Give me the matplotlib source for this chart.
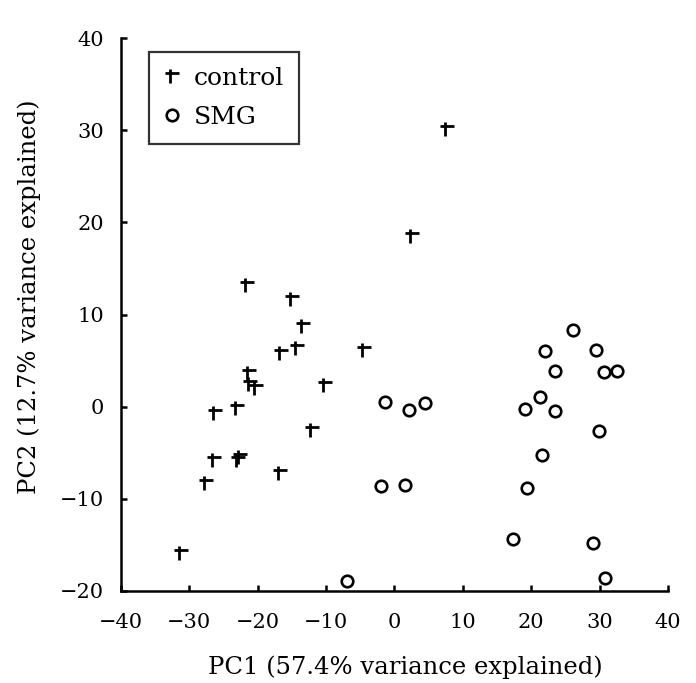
import matplotlib
matplotlib.use("Agg")
import matplotlib.pyplot as plt
from matplotlib.path import Path
import numpy as np

plt.rcParams['font.family'] = ['DejaVu Serif']
plt.rcParams['axes.unicode_minus'] = True

# PCA scores
control_pc1 = [7.7, 2.5, -21.5, -15.0, -13.4, -14.2, -16.6, -4.4, -21.3, -21.1,
               -20.3, -10.2, -23.0, -26.2, -12.1, -26.3, -22.6, -22.9, -16.7, -27.5, -31.2]
control_pc2 = [30.1, 18.5, 13.2, 11.65, 8.8, 6.4, 5.8, 6.15, 3.6, 2.45,
               2.05, 2.3, -0.1, -0.65, -2.5, -5.8, -5.5, -5.8, -7.2, -8.3, -15.9]

smg_pc1 = [26.1, 22.0, 29.5, 23.4, 30.6, 32.5, 21.2, 19.1, 23.4, 29.9, 21.6,
           19.3, 17.3, 29.0, 30.7, -1.4, 2.2, 4.4, -1.9, 1.5, -6.9]
smg_pc2 = [8.3, 6.07, 6.15, 3.87, 3.76, 3.87, 1.0, -0.3, -0.5, -2.7, -5.3,
           -8.8, -14.4, -14.8, -18.65, 0.55, -0.4, 0.35, -8.6, -8.5, -18.95]

x_ticks = [-40, -30, -20, -10, 0, 10, 20, 30, 40]
y_ticks = [-20, -10, 0, 10, 20, 30, 40]
x_label = "PC1 (57.4% variance explained)"
y_label = "PC2 (12.7% variance explained)"

# "t"-shaped cross marker: bar near the top, stem left of centre
t_marker = Path(
    [(-0.5, 0.22), (0.5, 0.22), (-0.17, 0.5), (-0.17, -0.5)],
    [Path.MOVETO, Path.LINETO, Path.MOVETO, Path.LINETO],
)

fig = plt.figure(figsize=(6.96, 6.83), dpi=100)
ax = fig.add_axes([0.1734, 0.1351, 0.7866, 0.8088])

ax.plot(control_pc1, control_pc2, linestyle='none', marker=t_marker,
        markersize=9.5, markeredgewidth=2.0, color='black', label='control')
ax.plot(smg_pc1, smg_pc2, linestyle='none', marker='o', markersize=8.3,
        markeredgewidth=1.9, markerfacecolor='white', markeredgecolor='black',
        label='SMG')

ax.set_xlim(-40, 40)
ax.set_ylim(-20, 40)
ax.set_xticks(x_ticks)
ax.set_yticks(y_ticks)

for side in ('top', 'right'):
    ax.spines[side].set_visible(False)
for side in ('left', 'bottom'):
    ax.spines[side].set_linewidth(1.8)

ax.tick_params(axis='x', direction='in', length=4, width=1.8, labelsize=15, pad=16)
ax.tick_params(axis='y', direction='in', length=4, width=1.8, labelsize=15, pad=12)

ax.set_xlabel(x_label, fontsize=17.5)
ax.set_ylabel(y_label, fontsize=17.5)
ax.xaxis.set_label_coords(0.52, -0.117)
ax.yaxis.set_label_coords(-0.145, 0.533)

leg = ax.legend(loc='upper left', bbox_to_anchor=(0.052, 0.975), fontsize=18,
                frameon=True, fancybox=False, handlelength=0.6, handletextpad=0.6,
                borderpad=0.6, labelspacing=0.62, borderaxespad=0)
leg.get_frame().set_edgecolor('black')
leg.get_frame().set_linewidth(1.6)

fig.savefig('out.png', dpi=100)
